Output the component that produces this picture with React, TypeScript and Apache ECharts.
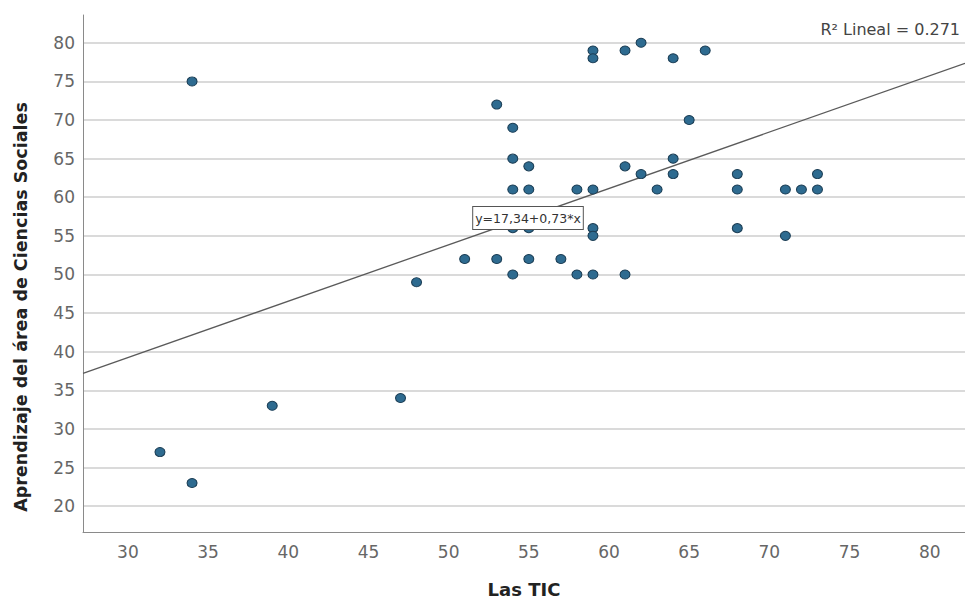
import React, { useEffect, useRef } from "react";
import * as echarts from "echarts";

const ticX: number[] = [32, 34, 34, 39, 47, 48, 51, 53, 53, 54, 54, 54, 54, 54, 55, 55, 55, 55, 57, 58, 58, 59, 59, 59, 59, 59, 59, 61, 61, 61, 62, 62, 63, 64, 64, 64, 65, 66, 68, 68, 68, 71, 71, 72, 73, 73];
const socialesY: number[] = [27, 23, 75, 33, 34, 49, 52, 52, 72, 69, 65, 61, 56, 50, 64, 61, 56, 52, 52, 61, 50, 79, 78, 61, 56, 55, 50, 79, 64, 50, 80, 63, 61, 78, 65, 63, 70, 79, 63, 61, 56, 61, 55, 61, 63, 61];

const intercept = 17.34;
const slope = 0.73;
const rSquared = "0.271";
const xRange = [27.2, 82.2];
const yRange = [16.65, 83.6];

const FONT = "'DejaVu Sans', Verdana, sans-serif";

export default function App() {
  const ref = useRef<HTMLDivElement>(null);
  useEffect(() => {
    if (!ref.current) return;
    const chart = echarts.init(ref.current, null, { renderer: "svg" });
    const points = ticX.map((x, i) => [x, socialesY[i]]);
    const fitLine = xRange.map((x) => [x, intercept + slope * x]);
    chart.setOption({
      animation: false,
      backgroundColor: "#ffffff",
      textStyle: { fontFamily: FONT },
      grid: { left: 83, right: 0, top: 15, bottom: 68, containLabel: false },
      xAxis: {
        type: "value",
        min: xRange[0],
        max: xRange[1],
        minInterval: 5,
        maxInterval: 5,
        splitNumber: 11,
        name: "Las TIC",
        nameLocation: "middle",
        nameGap: 48,
        nameTextStyle: { fontFamily: FONT, fontSize: 18, fontWeight: "bold", color: "#222" },
        axisLine: { show: true, lineStyle: { color: "#8a8a8a", width: 1 } },
        axisTick: { show: false },
        axisLabel: { showMinLabel: false, showMaxLabel: false, color: "#666", fontSize: 17, fontFamily: FONT, margin: 11 },
        splitLine: { show: false },
      },
      yAxis: {
        type: "value",
        min: yRange[0],
        max: yRange[1],
        minInterval: 5,
        maxInterval: 5,
        splitNumber: 13,
        axisLine: { show: true, lineStyle: { color: "#8a8a8a", width: 1 } },
        axisTick: { show: false },
        axisLabel: { showMinLabel: false, showMaxLabel: false, color: "#666", fontSize: 17, fontFamily: FONT, margin: 8 },
        splitLine: { show: true, showMinLine: false, showMaxLine: false, lineStyle: { color: "#dadada", width: 2 } },
      },
      series: [
        {
          type: "line",
          data: fitLine,
          symbol: "none",
          lineStyle: { color: "#5a5a5a", width: 1.3 },
          z: 2,
        },
        {
          type: "scatter",
          data: points,
          symbol: "circle",
          symbolSize: [10, 9],
          itemStyle: { color: "#2e6b90", borderColor: "#1c3e55", borderWidth: 1, opacity: 1 },
          z: 3,
        },
      ],
      graphic: [
        {
          type: "text",
          x: 21,
          y: 307,
          rotation: Math.PI / 2,
          style: {
            text: "Aprendizaje del área de Ciencias Sociales",
            fontFamily: FONT,
            fontSize: 17.5,
            fontWeight: "bold",
            fill: "#222",
            align: "center",
            verticalAlign: "middle",
          },
        },
        {
          type: "text",
          x: 528,
          y: 218,
          z: 10,
          style: {
            text: `y=${String(intercept).replace(".", ",")}+${String(slope).replace(".", ",")}*x`,
            fontFamily: FONT,
            fontSize: 12.5,
            fill: "#333",
            align: "center",
            verticalAlign: "middle",
            backgroundColor: "#ffffff",
            borderColor: "#555",
            borderWidth: 1,
            padding: [5, 2, 4, 2],
          },
        },
        {
          type: "text",
          x: 960,
          y: 29,
          style: {
            text: `R² Lineal = ${rSquared}`,
            fontFamily: FONT,
            fontSize: 16,
            fill: "#444",
            align: "right",
            verticalAlign: "middle",
          },
        },
      ],
    });
    return () => chart.dispose();
  }, []);
  return <div ref={ref} style={{ position: "fixed", left: 0, top: 0, width: 965, height: 603 }} />;
}
